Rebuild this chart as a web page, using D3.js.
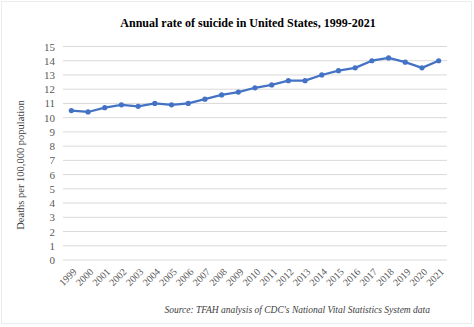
<!DOCTYPE html>
<html>
<head>
<meta charset="utf-8">
<style>
  body { margin: 0; background: #fff; }
  svg { display: block; }
</style>
</head>
<body>
<svg width="474" height="327"></svg>

<script src="https://cdn.jsdelivr.net/npm/d3@7"></script>
<script>
var years = ["1999","2000","2001","2002","2003","2004","2005","2006","2007","2008","2009","2010",
             "2011","2012","2013","2014","2015","2016","2017","2018","2019","2020","2021"];
var rates = [10.5, 10.4, 10.7, 10.9, 10.8, 11.0, 10.9, 11.0, 11.3, 11.6, 11.8, 12.1,
             12.3, 12.6, 12.6, 13.0, 13.3, 13.5, 14.0, 14.2, 13.9, 13.5, 14.0];
var yTicks = [0,1,2,3,4,5,6,7,8,9,10,11,12,13,14,15];

var W = 474, H = 327;
var plotLeft = 63, plotRight = 447, plotTop = 46.5, plotBottom = 260;
var serif = "'Liberation Serif', 'Times New Roman', serif";

var svg = d3.select('svg');

// faint frame round the figure
svg.append('rect')
  .attr('x', 1.5).attr('y', 1.5)
  .attr('width', W - 4).attr('height', H - 5)
  .attr('fill', '#fff')
  .attr('stroke', '#ececec');

var x = d3.scalePoint().domain(years).range([plotLeft, plotRight]).padding(0.5);
var y = d3.scaleLinear().domain([0, 15]).range([plotBottom, plotTop]);

svg.append('text')
  .attr('x', 248).attr('y', 27)
  .attr('text-anchor', 'middle')
  .style('font-family', serif)
  .style('font-weight', 'bold')
  .style('font-size', '12px')
  .text('Annual rate of suicide in United States, 1999-2021');

// horizontal gridlines
svg.append('g').selectAll('line').data(yTicks).enter().append('line')
  .attr('x1', plotLeft).attr('x2', plotRight)
  .attr('y1', function(d) { return y(d); })
  .attr('y2', function(d) { return y(d); })
  .attr('stroke', '#d9d9d9')
  .attr('stroke-width', 1);

var yAxis = svg.append('g')
  .attr('transform', 'translate(' + (plotLeft - 8) + ',0)')
  .call(d3.axisLeft(y).tickValues(yTicks).tickSize(0).tickPadding(0));
yAxis.select('.domain').remove();
yAxis.selectAll('text')
  .style('font-family', serif)
  .style('font-size', '11px')
  .attr('fill', '#595959');

var xAxis = svg.append('g')
  .attr('transform', 'translate(0,' + plotBottom + ')')
  .call(d3.axisBottom(x).tickSize(0).tickPadding(0));
xAxis.select('.domain').remove();
xAxis.selectAll('text')
  .style('font-family', serif)
  .style('font-size', '10px')
  .attr('fill', '#595959')
  .attr('text-anchor', 'end')
  .attr('y', 0)
  .attr('dy', '0.35em')
  .attr('transform', 'translate(3,10) rotate(-45)');

svg.append('text')
  .attr('transform', 'translate(24,165) rotate(-90)')
  .attr('text-anchor', 'middle')
  .style('font-family', serif)
  .style('font-size', '10.5px')
  .attr('fill', '#404040')
  .text('Deaths per 100,000 population');

var line = d3.line()
  .x(function(d, i) { return x(years[i]); })
  .y(function(d) { return y(d); });

svg.append('path')
  .datum(rates)
  .attr('d', line)
  .attr('fill', 'none')
  .attr('stroke', '#4472c4')
  .attr('stroke-width', 2.25)
  .attr('stroke-linejoin', 'round');

svg.append('g').selectAll('circle').data(rates).enter().append('circle')
  .attr('cx', function(d, i) { return x(years[i]); })
  .attr('cy', function(d) { return y(d); })
  .attr('r', 2.6)
  .attr('fill', '#4472c4');

svg.append('text')
  .attr('x', 430).attr('y', 313)
  .attr('text-anchor', 'end')
  .style('font-family', serif)
  .style('font-style', 'italic')
  .style('font-size', '9.5px')
  .attr('fill', '#404040')
  .text("Source: TFAH analysis of CDC's National Vital Statistics System data");
</script>
</body>
</html>
